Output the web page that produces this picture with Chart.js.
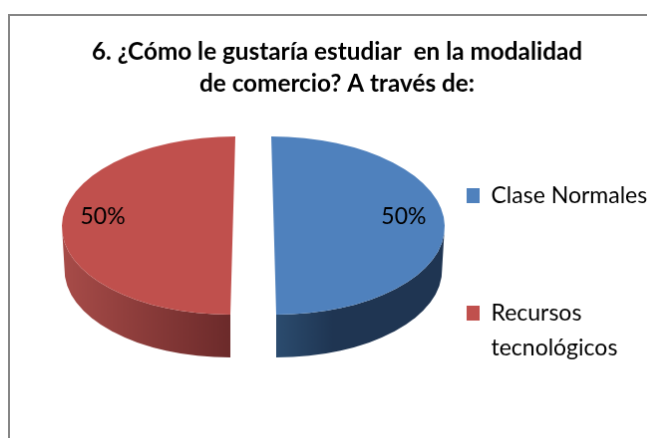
<!DOCTYPE html>
<html>
<head>
<meta charset="utf-8">
<style>
  html, body { margin: 0; background: #fff; overflow: hidden; }
  #chart { position: absolute; left: 8px; top: 14px; border-left: 2px solid #868686; border-top: 2px solid #868686; }
</style>
</head>
<body>
<canvas id="chart" width="656" height="424"></canvas>
<script src="https://cdn.jsdelivr.net/npm/chart.js@4"></script>
<script>
const titleLines = ['6. ¿Cómo le gustaría estudiar  en la modalidad', 'de comercio? A través de:'];
const categories = ['Clase Normales', ['Recursos', 'tecnológicos']];
const values = [50, 50];
const topColors = ['#4f81bd', '#c0504d'];
// wall gradient, front edge first then the outer side
const wallColors = [['#2c4d70', '#1f3552'], ['#6b2a2a', '#a84c49']];

const squash = 89.5 / 171.5;
const depth = 43;
const explode = 20.5;
const legendGap = 95;

const pie3d = {
  id: 'pie3d',
  // the legend and title sit where the picture has them, not where the box layout puts them
  afterLayout(chart) {
    chart.legend.left = 458 - legendGap;
    chart.legend.top = 74;
    chart.titleBlock.left = 0;
    chart.titleBlock.right = 656;
    chart.chartArea.left = 0;
    chart.chartArea.right = 488;
    chart.chartArea.top = 110.5;
    chart.chartArea.bottom = 310.5;
  },
  beforeDatasetDraw(chart) {
    const ctx = chart.ctx;
    const arcs = chart.getDatasetMeta(0).data;
    arcs.forEach((arc, i) => {
      const dir = i === 0 ? 1 : -1;
      const cx = arc.x + dir * explode;
      const cy = arc.y;
      const r = arc.outerRadius;
      const tilt = dir * 2.5 / r;

      const place = (dy, shrink) => {
        ctx.translate(cx, cy + dy);
        ctx.transform(shrink, 0, tilt, squash, 0, 0);
        ctx.translate(-cx, -cy);
      };

      // side wall, only the part of the rim that faces the viewer
      const from = i === 0 ? 0 : Math.PI / 2;
      const to = i === 0 ? Math.PI / 2 : Math.PI;
      ctx.save();
      ctx.beginPath();
      ctx.save();
      place(0, 1);
      ctx.arc(cx, cy, r, from, to);
      ctx.restore();
      ctx.save();
      place(depth, 0.985);
      ctx.arc(cx, cy, r, to, from, true);
      ctx.restore();
      ctx.closePath();
      const grad = ctx.createLinearGradient(cx, 0, cx + dir * r, 0);
      grad.addColorStop(0, wallColors[i][0]);
      grad.addColorStop(i === 0 ? 0.35 : 1, wallColors[i][1]);
      ctx.fillStyle = grad;
      ctx.fill();
      ctx.restore();

      // top face, the arc itself, squashed to an ellipse and pulled apart
      ctx.save();
      ctx.translate(cx, cy);
      ctx.transform(1, 0, tilt, squash, 0, 0);
      ctx.translate(-arc.x, -arc.y);
      arc.draw(ctx);
      ctx.restore();
    });
    return false;
  },
  afterDatasetsDraw(chart) {
    const ctx = chart.ctx;
    const arcs = chart.getDatasetMeta(0).data;
    const total = values.reduce((a, b) => a + b, 0);
    ctx.save();
    ctx.font = '23px Lato';
    ctx.fillStyle = '#000';
    ctx.textAlign = 'center';
    ctx.textBaseline = 'middle';
    arcs.forEach((arc, i) => {
      const dir = i === 0 ? 1 : -1;
      const x = arc.x + dir * arc.outerRadius * 0.88;
      const y = arc.y - 9;
      ctx.fillText(Math.round(values[i] / total * 100) + '%', x, y);
    });
    ctx.restore();
  }
};

new Chart(document.getElementById('chart').getContext('2d'), {
  type: 'pie',
  data: {
    labels: categories,
    datasets: [{
      data: values,
      backgroundColor: topColors,
      borderWidth: 0,
      radius: 171.5
    }]
  },
  options: {
    responsive: false,
    animation: false,
    plugins: {
      title: {
        display: true,
        text: titleLines,
        color: '#000',
        font: { family: 'Lato', size: 24.3, weight: 'bold', lineHeight: 32 / 24.3 },
        padding: { top: 20, bottom: 4 }
      },
      legend: {
        position: 'right',
        align: 'start',
        labels: {
          color: '#000',
          font: { family: 'Lato', size: 23, lineHeight: 35 / 23 },
          boxWidth: 13,
          boxHeight: 15,
          padding: legendGap,
          generateLabels(chart) {
            return categories.map((c, i) => ({
              text: c,
              fillStyle: topColors[i],
              strokeStyle: topColors[i],
              lineWidth: 0,
              index: i
            }));
          }
        }
      },
      tooltip: { enabled: false }
    }
  },
  plugins: [pie3d]
});
</script>
</body>
</html>
